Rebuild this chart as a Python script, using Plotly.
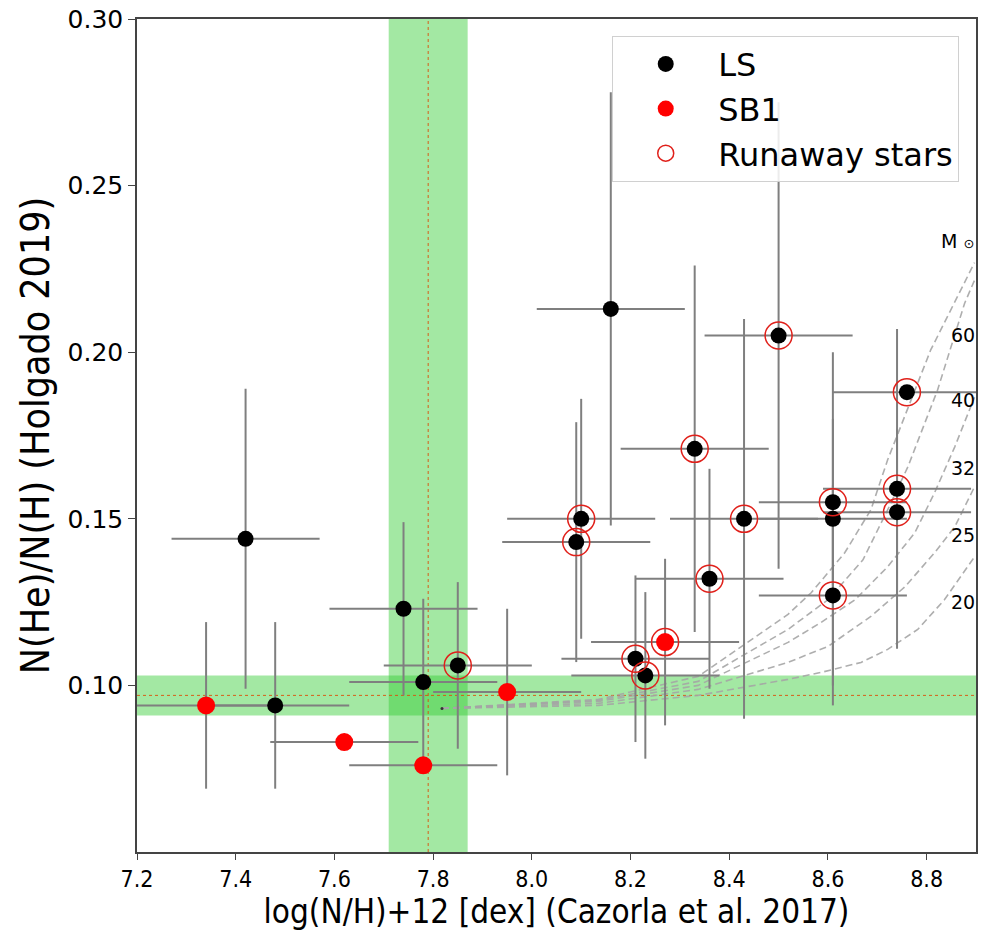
import plotly.graph_objects as go

# --- LS stars (not runaways) ---
ls_x = [7.42, 7.48, 7.74, 7.78, 8.61, 8.16]
ls_y = [0.144, 0.094, 0.123, 0.101, 0.150, 0.213]
ls_xerr = [0.15, 0.15, 0.15, 0.15, 0.15, 0.15]
ls_yerr = [0.045, 0.025, 0.026, 0.025, 0.050, 0.065]

# --- LS runaway stars ---
lsr_x = [7.85, 8.10, 8.09, 8.33, 8.36, 8.43, 8.61, 8.61, 8.74, 8.74, 8.76, 8.50, 8.21, 8.23]
lsr_y = [0.106, 0.150, 0.143, 0.171, 0.132, 0.150, 0.155, 0.127, 0.159, 0.152, 0.188, 0.205, 0.108, 0.103]
lsr_xerr = [0.15] * 14
lsr_yerr = [0.025, 0.036, 0.036, 0.055, 0.033, 0.060, 0.025, 0.033, 0.048, 0.025, 0.0, 0.070, 0.025, 0.025]

# --- SB1 stars (not runaways) ---
sb_x = [7.34, 7.62, 7.78, 7.95]
sb_y = [0.094, 0.083, 0.076, 0.098]
sb_xerr = [0.15, 0.15, 0.15, 0.15]
sb_yerr = [0.025, 0.0, 0.0, 0.025]

# --- SB1 runaway stars ---
sbr_x = [8.27]
sbr_y = [0.113]
sbr_xerr = [0.15]
sbr_yerr = [0.025]

# --- reference values (mean and spread) ---
ref_logNH = 7.79
ref_logNH_err = 0.08
ref_HeH = 0.097
ref_HeH_err = 0.006

# --- evolutionary tracks (initial mass in solar masses) ---
track_masses = ["60", "40", "32", "25", "20"]
trk60_x = [7.818, 8.135, 8.337, 8.519, 8.566, 8.634, 8.687, 8.721, 8.808, 8.897]
trk60_y = [0.0931, 0.0958, 0.1027, 0.1213, 0.1278, 0.1398, 0.1527, 0.1677, 0.2006, 0.2269]
trk40_x = [7.818, 8.135, 8.337, 8.519, 8.600, 8.671, 8.721, 8.762, 8.822, 8.877, 8.897]
trk40_y = [0.0931, 0.0955, 0.1012, 0.1168, 0.1257, 0.1377, 0.1527, 0.1656, 0.1886, 0.2147, 0.2216]
trk32_x = [7.818, 8.135, 8.337, 8.519, 8.586, 8.655, 8.721, 8.776, 8.816, 8.857, 8.897]
trk32_y = [0.0931, 0.0952, 0.1000, 0.1129, 0.1189, 0.1257, 0.1356, 0.1458, 0.1578, 0.1716, 0.1865]
trk25_x = [7.818, 8.135, 8.337, 8.519, 8.600, 8.687, 8.756, 8.816, 8.857, 8.897]
trk25_y = [0.0931, 0.0946, 0.0988, 0.1069, 0.1117, 0.1207, 0.1296, 0.1398, 0.1476, 0.1596]
trk20_x = [7.818, 8.135, 8.337, 8.519, 8.586, 8.667, 8.721, 8.782, 8.836, 8.897]
trk20_y = [0.0931, 0.0940, 0.0970, 0.1018, 0.1039, 0.1069, 0.1108, 0.1168, 0.1257, 0.1386]
tracks_x = [trk60_x, trk40_x, trk32_x, trk25_x, trk20_x]
tracks_y = [trk60_y, trk40_y, trk32_y, trk25_y, trk20_y]

# track label placement
mass_label_x = [8.846, 8.846, 8.846, 8.846, 8.846]
mass_label_y = [0.2051, 0.1856, 0.1653, 0.1452, 0.1251]
msun_label_xy = (8.826, 0.2335)

x_ticks = [7.2, 7.4, 7.6, 7.8, 8.0, 8.2, 8.4, 8.6, 8.8]
y_ticks = [0.10, 0.15, 0.20, 0.25, 0.30]

ERR_COLOR = "#7f7f7f"
BAND = "rgba(50,205,50,0.45)"
REF_LINE = "rgba(220,80,10,0.9)"
COND = "DejaVu Sans Condensed, Liberation Sans Narrow, DejaVu Sans"
PLAIN = "DejaVu Sans"

fig = go.Figure()

# tracks
for tx, ty in zip(tracks_x, tracks_y):
    fig.add_trace(go.Scatter(
        x=tx, y=ty, mode="lines", showlegend=False, hoverinfo="skip",
        line=dict(color="rgba(165,165,165,0.9)", width=1.6, dash="7px,4px")))
fig.add_trace(go.Scatter(
    x=[trk60_x[0]], y=[trk60_y[0]], mode="markers", showlegend=False,
    marker=dict(size=3, color="#333333")))

# error bars of every group, drawn beneath all markers
def err_trace(xs, ys, xe, ye):
    return go.Scatter(
        x=xs, y=ys, mode="markers", showlegend=False, hoverinfo="skip",
        marker=dict(size=1, opacity=0),
        error_x=dict(type="data", array=xe, color=ERR_COLOR, thickness=2, width=0),
        error_y=dict(type="data", array=ye, color=ERR_COLOR, thickness=2, width=0))

for xs, ys, xe, ye in [(ls_x, ls_y, ls_xerr, ls_yerr),
                       (lsr_x, lsr_y, lsr_xerr, lsr_yerr),
                       (sb_x, sb_y, sb_xerr, sb_yerr),
                       (sbr_x, sbr_y, sbr_xerr, sbr_yerr)]:
    fig.add_trace(err_trace(xs, ys, xe, ye))

# markers
fig.add_trace(go.Scatter(
    x=ls_x + lsr_x, y=ls_y + lsr_y, mode="markers", name="LS",
    marker=dict(size=16, color="black", line=dict(width=0))))
fig.add_trace(go.Scatter(
    x=sb_x + sbr_x, y=sb_y + sbr_y, mode="markers", name="SB1",
    marker=dict(size=18, color="red", line=dict(width=0))))
fig.add_trace(go.Scatter(
    x=lsr_x + sbr_x, y=lsr_y + sbr_y, mode="markers", name="Runaway stars",
    marker=dict(size=27, color="rgba(0,0,0,0)", line=dict(color="#e0201a", width=1.5))))

# reference bands and centre lines
shapes = [
    dict(type="rect", xref="x", yref="paper", x0=ref_logNH - ref_logNH_err,
         x1=ref_logNH + ref_logNH_err, y0=0, y1=1, fillcolor=BAND, line_width=0, layer="below"),
    dict(type="rect", xref="paper", yref="y", x0=0, x1=1, y0=ref_HeH - ref_HeH_err,
         y1=ref_HeH + ref_HeH_err, fillcolor=BAND, line_width=0, layer="below"),
    dict(type="line", xref="x", yref="paper", x0=ref_logNH, x1=ref_logNH, y0=0, y1=1,
         line=dict(color=REF_LINE, width=1, dash="dot"), layer="below"),
    dict(type="line", xref="paper", yref="y", x0=0, x1=1, y0=ref_HeH, y1=ref_HeH,
         line=dict(color=REF_LINE, width=1, dash="dot"), layer="below"),
]

annotations = []
for m, lx, ly in zip(track_masses, mass_label_x, mass_label_y):
    annotations.append(dict(x=lx, y=ly, xref="x", yref="y", text=m, showarrow=False,
                            xanchor="left", yanchor="middle",
                            font=dict(family=PLAIN, size=19, color="black")))
annotations.append(dict(x=msun_label_xy[0], y=msun_label_xy[1], xref="x", yref="y",
                        text="M <span style='font-size:13px'>⊙</span>", showarrow=False,
                        xanchor="left", yanchor="middle",
                        font=dict(family=PLAIN, size=19, color="black")))

fig.update_layout(
    width=983, height=931,
    margin=dict(l=137, r=5, t=18, b=78),
    paper_bgcolor="white", plot_bgcolor="white",
    shapes=shapes, annotations=annotations,
    legend=dict(x=0.98, y=0.98, xanchor="right", yanchor="top",
                bgcolor="rgba(255,255,255,0.85)", bordercolor="#d0d0d0", borderwidth=1,
                font=dict(family=PLAIN, size=32, color="black"), itemwidth=95),
    xaxis=dict(range=[7.2, 8.9], tickvals=x_ticks, ticktext=[f"{v:.1f}" for v in x_ticks],
               showgrid=False, zeroline=False, showline=True, mirror=True,
               linecolor="#444444", linewidth=1.5, ticks="outside", ticklen=6,
               tickcolor="#444444", tickfont=dict(family=COND, size=23, color="black"),
               title=dict(text="log(N/H)+12 [dex] (Cazorla et al. 2017)",
                          font=dict(family=COND, size=33, color="black"), standoff=11)),
    yaxis=dict(range=[0.05, 0.30], tickvals=y_ticks, ticktext=[f"{v:.2f}" for v in y_ticks],
               showgrid=False, zeroline=False, showline=True, mirror=True,
               linecolor="#444444", linewidth=1.5, ticks="outside", ticklen=7,
               tickcolor="#444444", tickfont=dict(family=PLAIN, size=25, color="black"),
               title=dict(text="N(He)/N(H) (Holgado 2019)",
                          font=dict(family=COND, size=39, color="black"), standoff=6)),
)

fig.write_html("out.html")
